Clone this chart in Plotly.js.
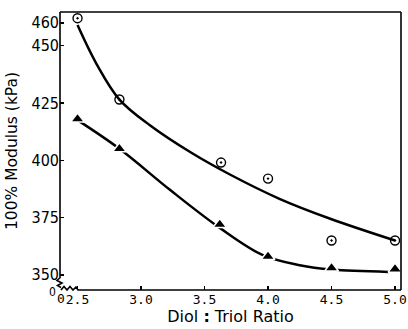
<!DOCTYPE html>
<html>
<head>
<meta charset="utf-8">
<script src="https://cdn.plot.ly/plotly-3.0.1.min.js"></script>
<style>html,body{margin:0;padding:0;background:#fff;}#chart{width:408px;height:329px;}</style>
</head>
<body>
<div id="chart"></div>
<script>
// Measured points
const circleX = [2.5, 2.83, 3.63, 4.0, 4.5, 5.0];
const circleY = [462, 426.5, 399, 392, 365, 365];
const triX = [2.5, 2.83, 3.62, 4.0, 4.5, 5.0];
const triY = [418, 405, 372, 358, 353, 352.5];
// Hand-drawn fitted curves
const fitTopX = [2.5, 2.65, 2.83, 3.07, 3.39, 3.7, 4.09, 4.49, 5.0];
const fitTopY = [459, 442, 426.5, 415.3, 403.5, 393.8, 383.2, 374.5, 365];
const fitBotX = [2.5, 2.83, 3.23, 3.62, 3.96, 4.25, 4.5, 4.95];
const fitBotY = [417.5, 405, 387, 370.5, 358.6, 354.2, 352.3, 351.3];
// Tick labels
const yTicks = [350, 375, 400, 425, 450, 460];
const xTicks = [2.5, 3.0, 3.5, 4.0, 4.5, 5.0];
const xTickText = ['2.5', '3.0', '3.5', '4.0', '4.5', '5.0'];

const traces = [
  {x: fitTopX, y: fitTopY, mode: 'lines', line: {color: '#000', width: 2.5, shape: 'spline', smoothing: 1}, hoverinfo: 'skip'},
  {x: fitBotX, y: fitBotY, mode: 'lines', line: {color: '#000', width: 2.5, shape: 'spline', smoothing: 1}, hoverinfo: 'skip'},
  {x: circleX, y: circleY, mode: 'markers', marker: {symbol: 'circle-open-dot', size: 9, color: '#000', line: {color: '#000', width: 1.4}}},
  {x: triX, y: triY, mode: 'markers', marker: {symbol: 'triangle-up', size: 12, color: '#000', line: {color: '#fff', width: 1.5}}}
];

const ax = function(X){ return (X - 60) / 341; };
const ay = function(Y){ return (290 - Y) / 278; };

function pathOf(pts){
  return pts.map(function(p, i){ return (i ? 'L' : 'M') + ax(p[0]).toFixed(4) + ',' + ay(p[1]).toFixed(4); }).join(' ');
}

const lineStyle = {color: '#000', width: 1.6};
const shapes = [
  {type: 'line', xref: 'paper', yref: 'paper', x0: 0, x1: 1, y0: 1, y1: 1, line: lineStyle},
  {type: 'line', xref: 'paper', yref: 'paper', x0: 1, x1: 1, y0: 0, y1: 1, line: lineStyle},
  {type: 'path', xref: 'paper', yref: 'paper', line: lineStyle,
   path: pathOf([[60,12],[60,277.7],[57,280.5],[62,283],[57.5,285.5],[61,287.5]])},
  {type: 'path', xref: 'paper', yref: 'paper', line: lineStyle,
   path: pathOf([[61,290],[64,286.5],[67,290],[70,286.5],[73,290],[76,287],[78,290],[401,290]])}
];

const layout = {
  width: 408, height: 329,
  margin: {l: 60, r: 7, t: 12, b: 39},
  paper_bgcolor: '#fff', plot_bgcolor: '#fff',
  showlegend: false,
  xaxis: {
    range: [2.362, 5.047], showgrid: false, zeroline: false, showline: false,
    tickmode: 'array', tickvals: xTicks, ticktext: xTickText,
    ticks: 'inside', ticklen: 4, tickwidth: 1.5, tickcolor: '#000',
    tickfont: {family: 'DejaVu Sans Mono', size: 13, color: '#000'},
    title: {text: 'Diol <b>:</b> Triol Ratio', font: {family: 'DejaVu Sans', size: 16, color: '#000'}, standoff: 2}
  },
  yaxis: {
    range: [343.4, 464.7], showgrid: false, zeroline: false, showline: false,
    tickmode: 'array', tickvals: yTicks,
    ticks: 'inside', ticklen: 4, tickwidth: 1.5, tickcolor: '#000',
    tickfont: {family: 'Liberation Sans Narrow, DejaVu Sans Condensed', size: 16, color: '#000'},
    title: {text: '100% Modulus (kPa)', font: {family: 'DejaVu Sans', size: 15.5, color: '#000'}, standoff: 10}
  },
  shapes: shapes,
  annotations: [
    {xref: 'paper', yref: 'paper', x: ax(52), y: ay(292), text: '0', showarrow: false, xanchor: 'center', yanchor: 'middle',
     font: {family: 'Liberation Sans Narrow, DejaVu Sans Condensed', size: 12, color: '#000'}},
    {xref: 'paper', yref: 'paper', x: ax(61), y: ay(298), text: '0', showarrow: false, xanchor: 'center', yanchor: 'middle',
     font: {family: 'DejaVu Sans Mono', size: 13, color: '#000'}}
  ]
};

Plotly.newPlot('chart', traces, layout, {staticPlot: true, displayModeBar: false});
</script>
</body>
</html>
